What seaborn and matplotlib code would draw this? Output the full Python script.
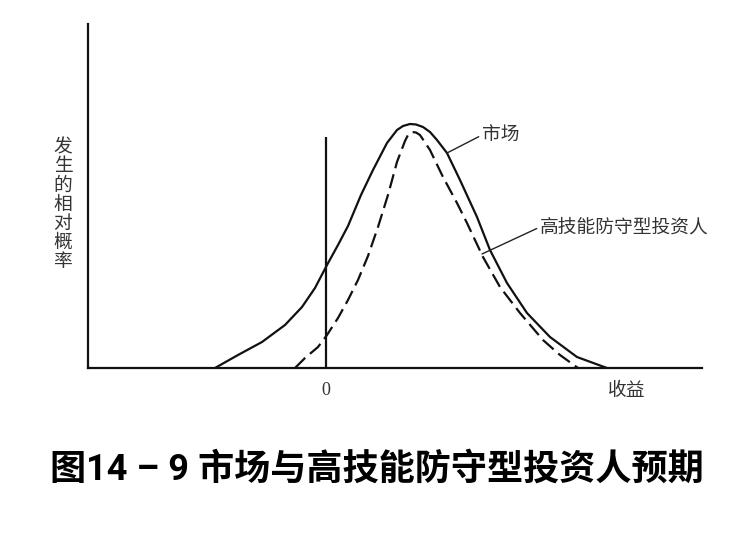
import matplotlib
matplotlib.use("Agg")
import matplotlib.pyplot as plt
import seaborn as sns
import pandas as pd

# 市场 (solid curve)
market_x = [-5.55, -4.4, -3.2, -2.05, -1.2, -0.55, 0.05, 0.6, 1.1, 1.75, 2.35, 3.05,
            3.55, 3.85, 4.2, 4.5, 4.85, 5.2, 5.55, 6.05, 6.7, 7.55, 8.2, 9.05,
            10.05, 11.2, 12.55, 14.05]
market_y = [0.0, 0.13, 0.26, 0.43, 0.61, 0.80, 1.03, 1.23, 1.42, 1.73, 1.98, 2.25,
            2.38, 2.42, 2.44, 2.435, 2.41, 2.36, 2.28, 2.15, 1.88, 1.51, 1.18, 0.85,
            0.55, 0.31, 0.11, 0.0]

# 高技能防守型投资人 (dashed curve)
skilled_x = [-1.55, -1.05, -0.4, 0.05, 0.6, 1.1, 1.6, 2.1, 2.6, 3.1, 3.55, 3.95,
             4.1, 4.3, 4.5, 4.7, 5.2, 5.85, 6.55, 7.05, 7.85, 8.7, 9.7, 10.85,
             11.7, 12.6]
skilled_y = [0.0, 0.10, 0.21, 0.33, 0.50, 0.68, 0.88, 1.12, 1.41, 1.73, 2.06, 2.27,
             2.33, 2.36, 2.355, 2.33, 2.18, 1.91, 1.65, 1.45, 1.11, 0.81, 0.55, 0.28,
             0.13, 0.0]

zero_line_top = 2.31
x_ticks = [0]
x_tick_labels = ["0"]
ylabel_chars = ["发", "生", "的", "相", "对", "概", "率"]
title = "图14 – 9 市场与高技能防守型投资人预期"

sns.set_style("white")
plt.rcParams["font.family"] = ["Noto Sans CJK SC", "DejaVu Sans"]

market = pd.DataFrame({"收益": market_x, "概率": market_y})
skilled = pd.DataFrame({"收益": skilled_x, "概率": skilled_y})

fig = plt.figure(figsize=(7.5, 5.44), dpi=100)
ax = fig.add_axes([0.1173, 0.3235, 0.8187, 0.6324])

sns.lineplot(data=market, x="收益", y="概率", color="#111111", lw=1.6, ax=ax)
sns.lineplot(data=skilled, x="收益", y="概率", color="#111111", lw=1.6, ax=ax)
for ln in ax.lines:
    ln.set_solid_joinstyle("round")
    ln.set_dash_joinstyle("round")
ax.lines[-1].set_dashes((6.5, 2.8))

ax.vlines(0, 0, zero_line_top, color="#111111", lw=1.6)

ax.set_xlim(-11.9, 18.8)
ax.set_ylim(0, 3.44)
sns.despine(ax=ax)
for s in ["left", "bottom"]:
    ax.spines[s].set_color("#111111")
    ax.spines[s].set_linewidth(1.6)
ax.set_yticks([])
ax.set_xticks(x_ticks)
ax.set_xticklabels(x_tick_labels, fontfamily="Liberation Serif", fontsize=13, color="#333333")
ax.tick_params(axis="x", length=0, pad=10)
ax.set_xlabel("")
ax.set_ylabel("")

ax.text(15.05, -0.22, "收益", fontsize=13.5, color="#333333", ha="center", va="center",
        fontweight="light", clip_on=False)

ax.annotate("市场", xy=(6.05, 2.15), xytext=(7.8, 2.33), fontsize=13.5, color="#333333",
            fontweight="light", va="center", ha="left",
            arrowprops=dict(arrowstyle="-", color="#222222", lw=1.0,
                            shrinkA=0, shrinkB=0, relpos=(0, 0.5)))
ax.annotate("高技能防守型投资人", xy=(7.8, 1.14), xytext=(10.7, 1.41), fontsize=13.5,
            color="#333333", fontweight="light", va="center", ha="left",
            arrowprops=dict(arrowstyle="-", color="#222222", lw=1.0,
                            shrinkA=0, shrinkB=0, relpos=(0, 0.5)))

fig.text(0.084, 0.625, "\n".join(ylabel_chars), fontsize=13.5, color="#333333",
         fontweight="light", ha="center", va="center", linespacing=0.88)

fig.text(0.502, 0.136, title, fontsize=26, fontweight="bold", color="#000000",
         ha="center", va="center", family=["Roboto", "Noto Sans CJK SC"])

fig.savefig("out.png", dpi=100)
